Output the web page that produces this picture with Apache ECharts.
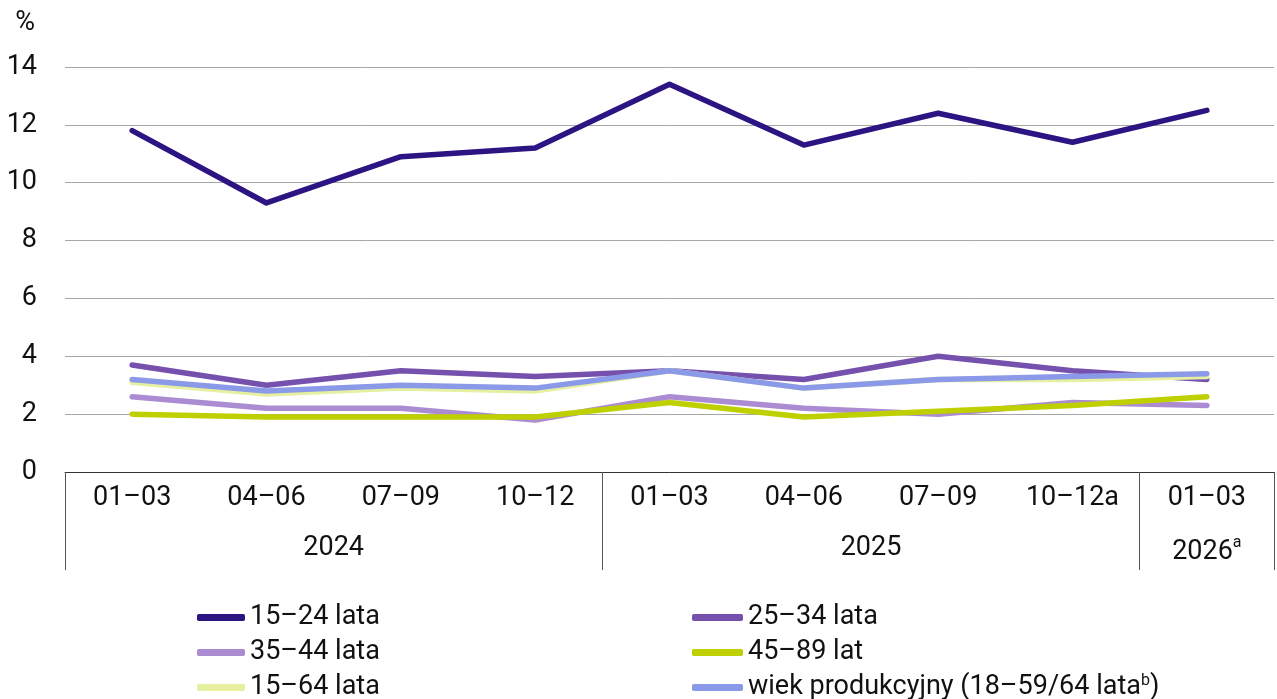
<!DOCTYPE html>
<html>
<head>
<meta charset="utf-8">
<script src="https://cdn.jsdelivr.net/npm/echarts@6/dist/echarts.min.js"></script>
<style>
html,body{margin:0;padding:0;background:#fff;}
#c{width:1277px;height:699px;}
</style>
</head>
<body>
<div id="c"></div>
<script>
var categories = ['01–03','04–06','07–09','10–12','01–03','04–06','07–09','10–12a','01–03'];
var yearLabels = ['','','','','2024','','','','','','','','2025','','','','','2026{sup|a}',''];
var yTicks = [0, 2, 4, 6, 8, 10, 12, 14];
var s15_24 = [11.8, 9.3, 10.9, 11.2, 13.4, 11.3, 12.4, 11.4, 12.5];
var s25_34 = [3.7, 3.0, 3.5, 3.3, 3.5, 3.2, 4.0, 3.5, 3.2];
var s35_44 = [2.6, 2.2, 2.2, 1.8, 2.6, 2.2, 2.0, 2.4, 2.3];
var s45_89 = [2.0, 1.9, 1.9, 1.9, 2.4, 1.9, 2.1, 2.3, 2.6];
var s15_64 = [3.1, 2.7, 2.9, 2.8, 3.5, 2.9, 3.2, 3.2, 3.3];
var sWiek  = [3.2, 2.8, 3.0, 2.9, 3.5, 2.9, 3.2, 3.3, 3.4];
var names = ['15–24 lata','25–34 lata','35–44 lata','45–89 lat','15–64 lata','wiek produkcyjny (18–59/64 lata^b)'];
var colors = ['#2c1482','#7551ad','#ab8bd2','#bfd000','#e6f0a0','#8b9ae8'];
var dataSets = [s15_24, s25_34, s35_44, s45_89, s15_64, sWiek];

var FONT = 'Roboto';
var chart = echarts.init(document.getElementById('c'));
var series = dataSets.map(function(d, i){
  return {
    name: names[i], type: 'line', data: d, symbol: 'none',
    xAxisIndex: 0,
    lineStyle: {width: 5.5, color: colors[i], cap: 'round', join: 'round'},
    itemStyle: {color: colors[i]},
    animation: false
  };
});
var legendText = {
  fontFamily: FONT, fontSize: 27, color: '#111', lineHeight: 29,
  rich: {sup: {fontFamily: FONT, fontSize: 16, color: '#111', verticalAlign: 'top', lineHeight: 29, padding:[0,0,8,0]}}
};
function legendFmt(n){ return n.replace('^b', '{sup|b}'); }
chart.setOption({
  backgroundColor: '#fff',
  animation: false,
  grid: {left: 65, right: -6, top: 67, bottom: 227, containLabel: false},
  legend: [
    {orient: 'vertical', left: 197, top: 603, height: 140, padding: 0, itemGap: 6, itemWidth: 48, itemHeight: 7, icon: 'roundRect',
     data: [names[0], names[2], names[4]], textStyle: legendText, formatter: legendFmt, selectedMode: false},
    {orient: 'vertical', left: 692, top: 603, height: 140, padding: 0, itemGap: 6, itemWidth: 51, itemHeight: 7, icon: 'roundRect',
     data: [names[1], names[3], names[5]], textStyle: legendText, formatter: legendFmt, selectedMode: false}
  ],
  xAxis: [
    {type: 'category', data: categories, boundaryGap: true, position: 'bottom',
     axisLine: {show: true, lineStyle: {color: '#333', width: 1}},
     axisTick: {show: true, length: 98, interval: function(i){ return i === 0 || i === 4 || i === 8; },
                lineStyle: {color: '#555', width: 1}},
     axisLabel: {interval: 0, margin: 13, fontFamily: FONT, fontSize: 27, color: '#111'},
     splitLine: {show: false}},
    {type: 'category', data: yearLabels, boundaryGap: false, position: 'bottom',
     axisLine: {show: false}, axisTick: {show: false}, splitLine: {show: false},
     axisLabel: {interval: 0, margin: 63, fontFamily: FONT, fontSize: 27, color: '#111',
                 rich: {sup: {fontFamily: FONT, fontSize: 16, color: '#111', verticalAlign: 'top', padding: [0,0,18,0]}}}}
  ],
  yAxis: {
    type: 'value', min: yTicks[0], max: yTicks[yTicks.length-1], interval: 2,
    name: '%', nameLocation: 'end', nameGap: 30,
    nameTextStyle: {fontFamily: FONT, fontSize: 27, color: '#111', align: 'right', padding: [0, 30, 0, 0]},
    axisLine: {show: false}, axisTick: {show: false},
    axisLabel: {margin: 28, fontFamily: FONT, fontSize: 27, color: '#111'},
    splitLine: {show: true, lineStyle: {color: '#a6a6a6', width: 1}}
  },
  series: series
});
</script>
</body>
</html>
